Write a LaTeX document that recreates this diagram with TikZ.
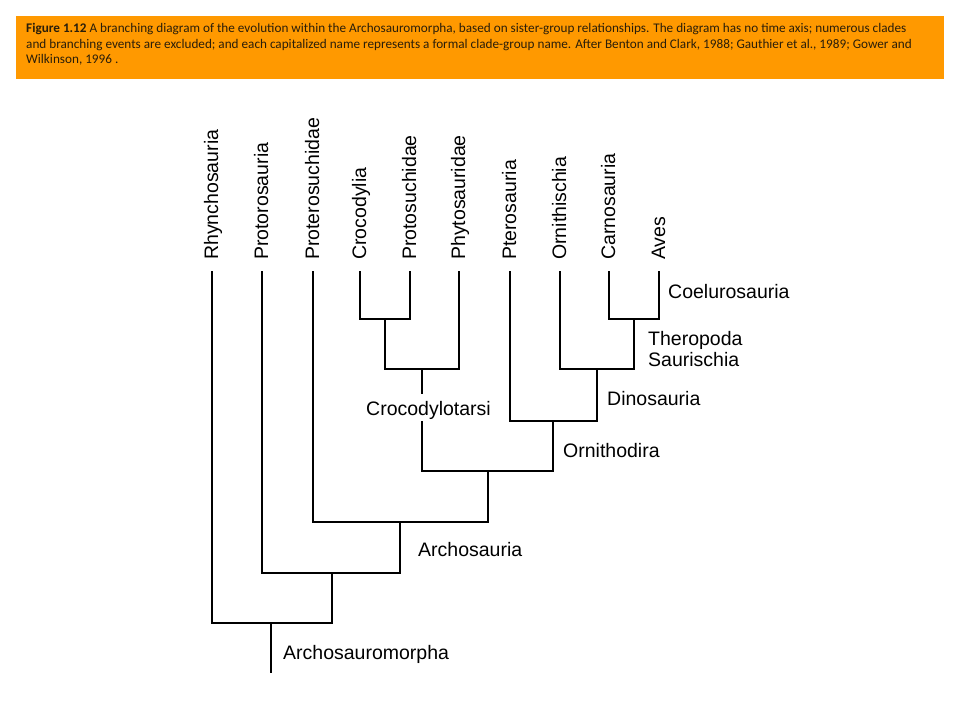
\documentclass[tikz,border=0pt]{standalone}
\usepackage{fontspec}
\setmainfont{Liberation Sans}
\newfontfamily\capfont{Carlito}
\definecolor{capbg}{HTML}{FF9900}
\definecolor{captext}{HTML}{2A1E0A}
\begin{document}
\begin{tikzpicture}[x=1pt,y=-1pt,
  br/.style={line width=2.9pt},
  taxon/.style={rotate=90, anchor=base west, inner sep=0pt, font=\fontsize{19.5}{23}\selectfont},
  clade/.style={anchor=base west, inner sep=0pt, font=\fontsize{19.5}{23}\selectfont},
  capbox/.style={fill=capbg, draw=none, inner sep=0pt, minimum width=928pt, minimum height=63pt, anchor=north west},
  captxt/.style={anchor=north west, inner sep=0pt, align=left, text=captext, font=\capfont\fontsize{13.2}{15.5}\selectfont}
]
\useasboundingbox (0,0) rectangle (960,720);
% caption
\node[capbox] (cap) at (16,16) {};
\node[captxt] (captext) at (26,23.5) {\textbf{Figure 1.12} A branching diagram of the evolution within the Archosauromorpha, based on sister-group relationships. The diagram has no time axis; numerous clades\\
and branching events are excluded; and each capitalized name represents a formal clade-group name. After Benton and Clark, 1988; Gauthier et al., 1989; Gower and\\
Wilkinson, 1996 .};

% leaf tops
\coordinate (t1) at (212,271);
\coordinate (t2) at (262,271);
\coordinate (t3) at (313,271);
\coordinate (t4) at (360,271);
\coordinate (t5) at (410,271);
\coordinate (t6) at (459,271);
\coordinate (t7) at (510,271);
\coordinate (t8) at (560,271);
\coordinate (t9) at (609,271);
\coordinate (t10) at (659,271);

% leaf labels
\node[taxon] (Rhy) at (218,260) {Rhynchosauria};
\node[taxon] (Pror) at (268,260) {Protorosauria};
\node[taxon] (Prot) at (319,260) {Proterosuchidae};
\node[taxon] (Croc) at (366,260) {Crocodylia};
\node[taxon] (Prsu) at (416,260) {Protosuchidae};
\node[taxon] (Phyt) at (465,260) {Phytosauridae};
\node[taxon] (Pter) at (516,260) {Pterosauria};
\node[taxon] (Orni) at (566,260) {Ornithischia};
\node[taxon] (Carn) at (615,260) {Carnosauria};
\node[taxon] (Aves) at (665,260) {Aves};

% internal nodes (on their bars)
\coordinate (A) at (385,319);
\coordinate (B) at (422,369);
\coordinate (C) at (634,319);
\coordinate (D) at (597,369);
\coordinate (E) at (553,421);
\coordinate (F) at (488,471);
\coordinate (G) at (400,522);
\coordinate (H) at (332,573);
\coordinate (I) at (271,623);
\coordinate (R) at (271,673);

% branches
\draw[br] (t4) |- (A);
\draw[br] (t5) |- (A);
\draw[br] (A) |- (B);
\draw[br] (t6) |- (B);
\draw[br] (t9) |- (C);
\draw[br] (t10) |- (C);
\draw[br] (t8) |- (D);
\draw[br] (C) |- (D);
\draw[br] (t7) |- (E);
\draw[br] (D) |- (E);
\draw[br] (B) |- (F);
\draw[br] (E) |- (F);
\draw[br] (t3) |- (G);
\draw[br] (F) |- (G);
\draw[br] (t2) |- (H);
\draw[br] (G) |- (H);
\draw[br] (t1) |- (I);
\draw[br] (H) |- (I);
\draw[br] (I) -- (R);

% clade labels
\node[clade] (Coel) at (668,298) {Coelurosauria};
\node[clade] (Ther) at (648,345) {Theropoda};
\node[clade] (Saur) at (648,366) {Saurischia};
\node[clade] (Dino) at (607,405) {Dinosauria};
\node[clade] (Ornd) at (563,457) {Ornithodira};
\node[clade, fill=white, text height=21pt, text depth=6pt] (Crot) at (366,415) {Crocodylotarsi};
\node[clade] (Arch) at (418,556) {Archosauria};
\node[clade] (Armo) at (283,659) {Archosauromorpha};
\end{tikzpicture}
\end{document}
